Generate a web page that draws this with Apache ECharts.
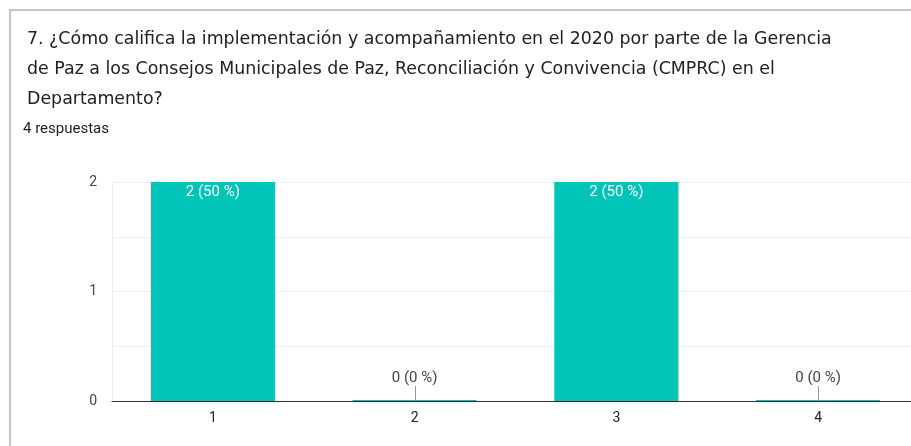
<!DOCTYPE html>
<html>
<head>
<meta charset="utf-8">
<script src="https://cdn.jsdelivr.net/npm/echarts@6/dist/echarts.min.js"></script>
<style>
  html, body { margin: 0; padding: 0; background: #fff; }
  #chart { width: 911px; height: 446px; }
</style>
</head>
<body>
<div id="chart"></div>
<script>
// datos
var question = '7. ¿Cómo califica la implementación y acompañamiento en el 2020 por parte de la Gerencia\nde Paz a los Consejos Municipales de Paz, Reconciliación y Convivencia (CMPRC) en el\nDepartamento?';
var responsesText = '4 respuestas';
var categories = ['1', '2', '3', '4'];
var counts = [2, 0, 2, 0];
var yTicks = [0, 1, 2];

var total = counts.reduce(function (a, b) { return a + b; }, 0);
var teal = '#00c4b8';

function labelText(v) {
  return v + ' (' + Math.round(v / total * 100) + ' %)';
}

var barData = counts.map(function (v) {
  if (v > 0) {
    return {
      value: v,
      label: { show: true, position: 'insideTop', distance: 3, color: '#fff', formatter: labelText(v) }
    };
  }
  return {
    value: v,
    label: { show: true, position: 'top', distance: 14, color: '#444', formatter: labelText(v) }
  };
});

var chart = echarts.init(document.getElementById('chart'));
chart.setOption({
  animation: false,
  title: [
    {
      text: question,
      left: 22,
      top: 19,
      textStyle: { fontFamily: 'DejaVu Sans', fontSize: 17.4, fontWeight: 'normal', color: '#202124', lineHeight: 30 }
    },
    {
      text: responsesText,
      left: 18,
      top: 117,
      textStyle: { fontFamily: 'Roboto', fontSize: 15, fontWeight: 'normal', color: '#202124' }
    }
  ],
  graphic: [
    {
      type: 'rect',
      shape: { x: 10, y: 10, width: 920, height: 460 },
      style: { fill: 'none', stroke: '#c4c4c4', lineWidth: 2 },
      silent: true
    }
  ],
  grid: { left: 112, width: 807, top: 182, height: 219, outerBoundsMode: 'none' },
  xAxis: {
    type: 'category',
    data: categories,
    axisLine: { lineStyle: { color: '#333', width: 1 } },
    axisTick: { show: false },
    axisLabel: { color: '#222', fontFamily: 'Roboto', fontSize: 14, margin: 10 }
  },
  yAxis: {
    type: 'value',
    min: 0,
    max: 2,
    interval: 0.5,
    axisLine: { show: true, lineStyle: { color: '#eeeeee' } },
    axisTick: { show: false },
    splitLine: { lineStyle: { color: '#f0f0f0' } },
    axisLabel: {
      color: '#444',
      fontFamily: 'Roboto',
      fontSize: 14,
      margin: 15,
      formatter: function (v) { return yTicks.indexOf(v) >= 0 ? String(v) : ''; }
    }
  },
  series: [
    {
      type: 'bar',
      data: barData,
      barWidth: '61.5%',
      barMinHeight: 1,
      itemStyle: { color: teal },
      label: { fontFamily: 'Roboto', fontSize: 15 }
    },
    {
      // pequeña linea guia sobre las barras en cero
      type: 'custom',
      data: counts.map(function (v, i) { return [i, v]; }),
      renderItem: function (params, api) {
        if (api.value(1) > 0) return null;
        var p = api.coord([api.value(0), api.value(1)]);
        return {
          type: 'line',
          shape: { x1: Math.round(p[0]) + 0.5, y1: p[1] - 15, x2: Math.round(p[0]) + 0.5, y2: p[1] },
          style: { stroke: '#999', lineWidth: 1 }
        };
      },
      silent: true,
      z: 3
    }
  ]
});
</script>
</body>
</html>
